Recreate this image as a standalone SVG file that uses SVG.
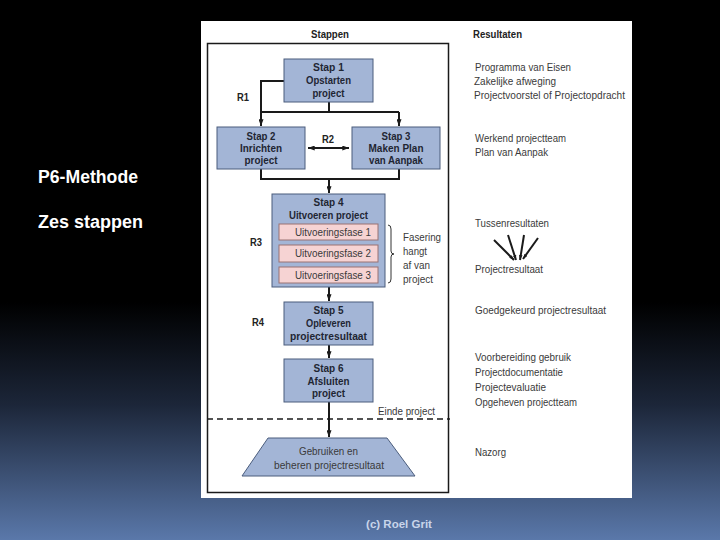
<svg xmlns="http://www.w3.org/2000/svg" width="720" height="540" viewBox="0 0 720 540">
<defs>
<linearGradient id="bg" x1="0" y1="0" x2="0" y2="1">
<stop offset="0" stop-color="#000000"/>
<stop offset="0.56" stop-color="#000000"/>
<stop offset="0.75" stop-color="#1c2639"/>
<stop offset="1" stop-color="#5a78aa"/>
</linearGradient>
<marker id="ah" viewBox="0 0 8 6" refX="8" refY="3" markerWidth="7" markerHeight="5" markerUnits="userSpaceOnUse" orient="auto-start-reverse">
<path d="M0,0 L8,3 L0,6 z" fill="#1a1a1a"/>
</marker>
<marker id="ahs" viewBox="0 0 7 5" refX="7" refY="2.5" markerWidth="5" markerHeight="4" markerUnits="userSpaceOnUse" orient="auto">
<path d="M0,0 L7,2.5 L0,5 z" fill="#1a1a1a"/>
</marker>
<style>
.box{fill:#a3b5d6;stroke:#4b5d7d;stroke-width:1}
.ph{fill:#f6d3d3;stroke:#9a7272;stroke-width:1}
.bt{font-family:"Liberation Sans",Arial,sans-serif;font-weight:bold;font-size:11px;fill:#1f2633;text-anchor:middle}
.rt{font-family:"Liberation Sans",Arial,sans-serif;font-size:10.5px;fill:#3a3a3a}
.lbl{font-family:"Liberation Sans",Arial,sans-serif;font-weight:bold;font-size:10.5px;fill:#222}
.ln{fill:none;stroke:#1a1a1a;stroke-width:2}
.side{font-family:"Liberation Sans",Arial,sans-serif;font-weight:bold;font-size:17.5px;fill:#ffffff}
</style>
</defs>
<rect x="0" y="0" width="720" height="540" fill="url(#bg)"/>
<rect x="201" y="21" width="431" height="477" fill="#ffffff"/>
<rect x="207.5" y="43.5" width="241" height="449" fill="none" stroke="#1a1a1a" stroke-width="1.5"/>

<text class="side" x="38" y="183" textLength="100" lengthAdjust="spacingAndGlyphs">P6-Methode</text>
<text class="side" x="38" y="228" textLength="105" lengthAdjust="spacingAndGlyphs">Zes stappen</text>
<text x="399" y="528" font-family="Liberation Sans,Arial,sans-serif" font-size="11.5" font-weight="bold" fill="#c9d5ea" text-anchor="middle">(c) Roel Grit</text>

<text class="lbl" x="330" y="38" text-anchor="middle" textLength="38" lengthAdjust="spacingAndGlyphs">Stappen</text>
<text class="lbl" x="473" y="38" textLength="49" lengthAdjust="spacingAndGlyphs">Resultaten</text>

<g id="connectors">
<path class="ln" d="M284,81 H261 V126" marker-end="url(#ah)"/>
<path class="ln" d="M329,102 V112 M261,112 H399"/>
<path class="ln" d="M399,112 V126" marker-end="url(#ah)"/>
<path class="ln" d="M308,148 H349" stroke-width="1.5" marker-start="url(#ah)" marker-end="url(#ah)"/>
<path class="ln" d="M261,169 V179 H399 V169"/>
<path class="ln" d="M329,179 V193" marker-end="url(#ah)"/>
<path class="ln" d="M329,287 V301" marker-end="url(#ah)"/>
<path class="ln" d="M329,345 V358" marker-end="url(#ah)"/>
<path class="ln" d="M329,402 V437" marker-end="url(#ah)"/>
<path d="M207,419 H450" fill="none" stroke="#1a1a1a" stroke-width="1.5" stroke-dasharray="6,4"/>
<path d="M388,225 q3,0 3,4 v22 q0,3 3,3 q-3,0 -3,3 v22 q0,4 -3,4" fill="none" stroke="#333" stroke-width="1"/>
<g stroke="#1a1a1a" stroke-width="2" fill="none">
<path d="M494,240 L514,260" marker-end="url(#ahs)"/>
<path d="M508,235 L516,260" marker-end="url(#ahs)"/>
<path d="M524,235 L520,260" marker-end="url(#ahs)"/>
<path d="M538,238 L523,259" marker-end="url(#ahs)"/>
</g>
</g>

<text class="lbl" x="243" y="101" text-anchor="middle" textLength="12" lengthAdjust="spacingAndGlyphs">R1</text>
<text class="lbl" x="328" y="143" text-anchor="middle" textLength="12" lengthAdjust="spacingAndGlyphs">R2</text>
<text class="lbl" x="256" y="246" text-anchor="middle" textLength="12" lengthAdjust="spacingAndGlyphs">R3</text>
<text class="lbl" x="258" y="326" text-anchor="middle" textLength="12" lengthAdjust="spacingAndGlyphs">R4</text>

<g id="stap1">
<rect class="box" x="284" y="59" width="89" height="43"/>
<text class="bt" x="328.5" y="71" textLength="31" lengthAdjust="spacingAndGlyphs">Stap 1</text>
<text class="bt" x="328.5" y="84" textLength="45" lengthAdjust="spacingAndGlyphs">Opstarten</text>
<text class="bt" x="328.5" y="97" textLength="32" lengthAdjust="spacingAndGlyphs">project</text>
</g>
<g id="stap2">
<rect class="box" x="217" y="127" width="88" height="42"/>
<text class="bt" x="261" y="140" textLength="29" lengthAdjust="spacingAndGlyphs">Stap 2</text>
<text class="bt" x="261" y="152" textLength="42" lengthAdjust="spacingAndGlyphs">Inrichten</text>
<text class="bt" x="261" y="164" textLength="33" lengthAdjust="spacingAndGlyphs">project</text>
</g>
<g id="stap3">
<rect class="box" x="352" y="127" width="88" height="42"/>
<text class="bt" x="396" y="140" textLength="29" lengthAdjust="spacingAndGlyphs">Stap 3</text>
<text class="bt" x="396" y="152" textLength="55" lengthAdjust="spacingAndGlyphs">Maken Plan</text>
<text class="bt" x="396" y="164" textLength="54" lengthAdjust="spacingAndGlyphs">van Aanpak</text>
</g>
<g id="stap4">
<rect class="box" x="272" y="194" width="113" height="93"/>
<text class="bt" x="328.5" y="206" textLength="30" lengthAdjust="spacingAndGlyphs">Stap 4</text>
<text class="bt" x="328.5" y="219" textLength="79" lengthAdjust="spacingAndGlyphs">Uitvoeren project</text>
<rect class="ph" x="279" y="224" width="99" height="16"/>
<text class="rt" x="333" y="236" text-anchor="middle" textLength="76" lengthAdjust="spacingAndGlyphs">Uitvoeringsfase 1</text>
<rect class="ph" x="279" y="245" width="99" height="17"/>
<text class="rt" x="333" y="257" text-anchor="middle" textLength="76" lengthAdjust="spacingAndGlyphs">Uitvoeringsfase 2</text>
<rect class="ph" x="279" y="267" width="99" height="16"/>
<text class="rt" x="333" y="279" text-anchor="middle" textLength="76" lengthAdjust="spacingAndGlyphs">Uitvoeringsfase 3</text>
</g>
<g id="fasering">
<text class="rt" x="403" y="241" textLength="38" lengthAdjust="spacingAndGlyphs">Fasering</text>
<text class="rt" x="403" y="255" textLength="24" lengthAdjust="spacingAndGlyphs">hangt</text>
<text class="rt" x="403" y="269" textLength="27" lengthAdjust="spacingAndGlyphs">af van</text>
<text class="rt" x="403" y="283" textLength="30" lengthAdjust="spacingAndGlyphs">project</text>
</g>
<g id="stap5">
<rect class="box" x="284" y="302" width="89" height="43"/>
<text class="bt" x="328.5" y="314" textLength="30" lengthAdjust="spacingAndGlyphs">Stap 5</text>
<text class="bt" x="328.5" y="327" textLength="45" lengthAdjust="spacingAndGlyphs">Opleveren</text>
<text class="bt" x="328.5" y="340" textLength="77" lengthAdjust="spacingAndGlyphs">projectresultaat</text>
</g>
<g id="stap6">
<rect class="box" x="284" y="359" width="89" height="43"/>
<text class="bt" x="328.5" y="372" textLength="30" lengthAdjust="spacingAndGlyphs">Stap 6</text>
<text class="bt" x="328.5" y="385" textLength="42" lengthAdjust="spacingAndGlyphs">Afsluiten</text>
<text class="bt" x="328.5" y="397" textLength="33" lengthAdjust="spacingAndGlyphs">project</text>
</g>
<text class="rt" x="378" y="415" textLength="57" lengthAdjust="spacingAndGlyphs">Einde project</text>
<g id="nazorg-stap">
<polygon points="268,438 387,438 415,476 242,476" fill="#a3b5d6" stroke="#4b5d7d" stroke-width="1"/>
<text class="rt" x="328.5" y="455" text-anchor="middle" textLength="59" lengthAdjust="spacingAndGlyphs">Gebruiken en</text>
<text class="rt" x="329" y="469" text-anchor="middle" textLength="110" lengthAdjust="spacingAndGlyphs">beheren projectresultaat</text>
</g>

<g id="resultaten">
<text class="rt" x="475" y="71" textLength="96" lengthAdjust="spacingAndGlyphs">Programma van Eisen</text>
<text class="rt" x="474" y="85" textLength="82" lengthAdjust="spacingAndGlyphs">Zakelijke afweging</text>
<text class="rt" x="474" y="99" textLength="151" lengthAdjust="spacingAndGlyphs">Projectvoorstel of Projectopdracht</text>
<text class="rt" x="475" y="142" textLength="91" lengthAdjust="spacingAndGlyphs">Werkend projectteam</text>
<text class="rt" x="475" y="156" textLength="73" lengthAdjust="spacingAndGlyphs">Plan van Aanpak</text>
<text class="rt" x="475" y="227" textLength="74" lengthAdjust="spacingAndGlyphs">Tussenresultaten</text>
<text class="rt" x="475" y="273" textLength="68" lengthAdjust="spacingAndGlyphs">Projectresultaat</text>
<text class="rt" x="475" y="314" textLength="131" lengthAdjust="spacingAndGlyphs">Goedgekeurd projectresultaat</text>
<text class="rt" x="475" y="361" textLength="96" lengthAdjust="spacingAndGlyphs">Voorbereiding gebruik</text>
<text class="rt" x="475" y="376" textLength="88" lengthAdjust="spacingAndGlyphs">Projectdocumentatie</text>
<text class="rt" x="475" y="391" textLength="71" lengthAdjust="spacingAndGlyphs">Projectevaluatie</text>
<text class="rt" x="475" y="406" textLength="102" lengthAdjust="spacingAndGlyphs">Opgeheven projectteam</text>
<text class="rt" x="475" y="456" textLength="31" lengthAdjust="spacingAndGlyphs">Nazorg</text>
</g>
</svg>
